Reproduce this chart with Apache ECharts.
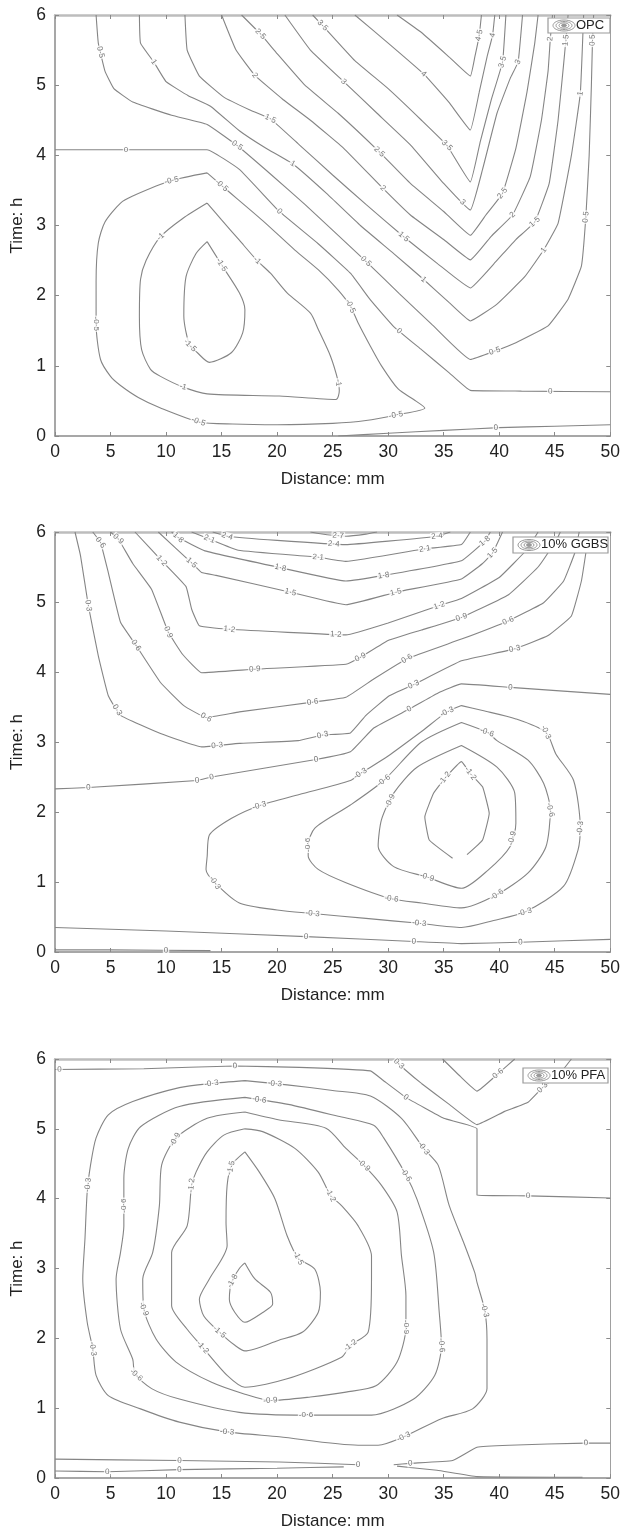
<!DOCTYPE html>
<html><head><meta charset="utf-8">
<script src="https://cdn.jsdelivr.net/npm/echarts/dist/echarts.min.js"></script>
<style>html,body{margin:0;padding:0;background:#fff}#c{width:623px;height:1533px}</style>
</head><body><div id="c"></div>
<script>
// ---------- axes ----------
const xTickValues = [0,5,10,15,20,25,30,35,40,45,50];
const yTickValues = [0,1,2,3,4,5,6];
const panelNames = ['OPC','10% GGBS','10% PFA'];

// ---------- Panel 1 : OPC contour lines [distance mm, time h] ----------
const o_m15 = [[13.7,2.77],[15.0,2.44],[16.6,2.04],[17.1,1.8],[16.9,1.47],[15.9,1.19],[13.9,1.05],[12.8,1.19],[12.1,1.3],[11.6,1.71],[11.8,2.27],[12.7,2.6],[13.7,2.77]];
const o_m10 = [[13.7,3.32],[11.5,3.1],[9.5,2.84],[8.2,2.5],[7.7,2.23],[7.6,1.7],[7.8,1.23],[8.6,0.95],[9.5,0.85],[11.5,0.7],[13.7,0.6],[20.2,0.57],[25.3,0.52],[25.6,0.65],[25.5,0.78],[24.8,1.14],[23.7,1.52],[23.0,1.75],[20.9,2.04],[19.4,2.32],[18.2,2.5],[16.6,2.79],[15.0,3.08],[13.7,3.32]];
const o_m05 = [[13.7,3.75],[10.5,3.64],[7.0,3.42],[5.9,3.32],[4.5,3.05],[3.9,2.75],[3.7,2.2],[3.7,1.6],[4.1,1.09],[5.0,0.85],[5.9,0.72],[7.5,0.55],[9.5,0.4],[13.0,0.2],[16,0.17],[20,0.16],[25,0.18],[28,0.22],[30.7,0.3],[33.3,0.4],[32.3,0.52],[30.9,0.67],[29.4,1.0],[28.4,1.28],[27.3,1.61],[26.6,1.85],[25.5,2.08],[23.7,2.37],[21.6,2.65],[18.7,3.07],[15.0,3.57],[13.7,3.75]];
const o_00a = [[0,4.08],[13.7,4.08],[16.6,3.8],[20.2,3.2],[23.7,2.74],[26.6,2.32],[28.4,1.94],[30.5,1.56],[33.0,1.23],[35.5,0.9],[37.4,0.65],[42,0.64],[50,0.63]];
const o_00b = [[25.5,0.0],[30,0.04],[35,0.08],[40,0.12],[45,0.14],[50,0.16]];
const o_05 = [[3.7,6],[3.9,5.6],[4.5,5.2],[5.3,4.95],[7.0,4.76],[10.5,4.57],[13.7,4.44],[16.4,4.14],[19.5,3.72],[22.5,3.3],[25.5,2.86],[28,2.49],[31,2.03],[34,1.58],[37.4,1.09],[39.6,1.21],[41.5,1.33],[44.4,1.57],[46.2,1.95],[47.4,2.42],[47.8,3.12],[48.1,4.0],[48.3,5.0],[48.4,5.64],[48.5,6]];
const o_10 = [[7.6,6],[7.7,5.6],[8.9,5.33],[10.0,5.05],[12.0,4.85],[14.0,4.7],[16.6,4.35],[19.0,4.1],[21.4,3.88],[24.5,3.45],[27.5,3.0],[30.5,2.6],[33.2,2.23],[35.5,1.9],[37.4,1.64],[39.8,1.88],[42.3,2.27],[44.0,2.65],[45.3,3.03],[46.5,4.0],[47.3,4.88],[47.6,6]];
const o_15 = [[11.7,6],[11.9,5.5],[13.0,5.13],[15.2,4.83],[17.5,4.65],[19.4,4.52],[22,4.15],[25,3.72],[28,3.3],[31.4,2.84],[34.5,2.45],[37.4,2.11],[39.5,2.45],[41.5,2.8],[43.2,3.05],[44.5,3.6],[45.3,4.5],[45.8,5.3],[46.0,5.64],[46.2,6]];
const o_20 = [[15.0,6],[16.3,5.5],[18.0,5.14],[20.5,4.8],[23,4.5],[26,4.1],[29.4,3.55],[32,3.15],[35,2.8],[37.4,2.51],[39.3,2.85],[41.2,3.15],[42.8,3.7],[43.8,4.5],[44.4,5.2],[44.6,5.66],[44.8,6]];
const o_25 = [[16.8,6],[18.5,5.73],[20,5.45],[22.5,5.0],[25.5,4.6],[29.2,4.05],[32,3.6],[35,3.2],[37.4,2.86],[38.8,3.15],[40.3,3.46],[41.5,4.1],[42.5,4.9],[43.2,5.6],[43.5,6]];
const o_30 = [[20.7,6],[23,5.5],[26,5.05],[29,4.6],[32,4.15],[35,3.6],[37.4,3.22],[38.5,3.8],[39.8,4.6],[41.0,5.1],[41.7,5.33],[42.1,6]];
const o_35 = [[23.2,6],[24.1,5.85],[27,5.35],[30,4.95],[33,4.5],[35.3,4.14],[37.4,3.62],[38.3,4.2],[39.3,4.8],[40.3,5.33],[40.6,6]];
const o_40 = [[27,6],[30,5.6],[33.2,5.16],[35.5,4.75],[37.4,4.36],[38.2,4.9],[38.9,5.4],[39.4,5.71],[39.6,6]];
const o_45 = [[30.8,6],[33,5.75],[35.5,5.4],[37.4,5.13],[37.8,5.4],[38.2,5.71],[38.4,6]];
// contour label anchors [level, distance, time]
const opcLabels = [[-1.5,15.0,2.44],[-1.5,12.1,1.28],[-1,9.5,2.84],[-1,18.2,2.5],[-1,11.6,0.74],[-1,25.5,0.76],
  [-0.5,10.5,3.64],[-0.5,15.0,3.57],[-0.5,3.7,1.6],[-0.5,12.9,0.2],[-0.5,30.7,0.3],[-0.5,26.6,1.85],
  [0,6.4,4.08],[0,20.2,3.2],[0,31.0,1.5],[0,44.6,0.64],[0,39.7,0.12],
  [0.5,4.1,5.47],[0.5,16.4,4.14],[0.5,28,2.49],[0.5,39.6,1.21],[0.5,47.8,3.12],[0.5,48.4,5.64],
  [1,8.9,5.33],[1,21.4,3.88],[1,33.2,2.23],[1,44.0,2.65],[1,47.3,4.88],
  [1.5,19.4,4.52],[1.5,31.4,2.84],[1.5,43.2,3.05],[1.5,46.0,5.64],
  [2,18.0,5.14],[2,29.4,3.51],[2,41.2,3.15],[2,44.6,5.66],
  [2.5,18.5,5.73],[2.5,29.2,4.05],[2.5,40.3,3.46],
  [3,26,5.05],[3,36.7,3.33],[3,41.7,5.33],
  [3.5,24.1,5.85],[3.5,35.3,4.14],[3.5,40.3,5.33],
  [4,33.2,5.16],[4,39.4,5.71],[4.5,38.2,5.71]];

// ---------- Panel 2 : 10% GGBS ----------
const g_27 = [[23,6],[24.5,5.96],[26.2,5.94],[28,5.97],[29,6]];
const g_24 = [[14.2,6],[15.5,5.94],[20,5.88],[26.2,5.82],[30,5.87],[34.4,5.94],[35.6,6]];
const g_21 = [[12.3,6],[13.9,5.9],[16.5,5.74],[23.7,5.64],[26.2,5.58],[33.3,5.76],[36.6,5.82],[37.4,6]];
const g_18 = [[10.5,6],[11.1,5.92],[13.5,5.73],[20.3,5.49],[26.2,5.3],[29.6,5.38],[36.6,5.59],[38.7,5.87],[39.2,6]];
const g_15 = [[9.3,6],[12.3,5.56],[13.2,5.42],[14.5,5.38],[21.2,5.14],[26.2,4.96],[30.7,5.14],[36.6,5.33],[38.5,5.55],[39.4,5.7],[40.3,6]];
const g_12 = [[7.2,6],[9.6,5.59],[11.8,5.22],[12.3,4.9],[13.0,4.66],[15.7,4.61],[26.2,4.53],[30,4.7],[34.6,4.95],[36.6,5.05],[40,5.35],[42.5,5.75],[43.5,6]];
const g_09 = [[5.0,6],[5.7,5.9],[7.0,5.55],[8.7,5.18],[10.2,4.57],[11.5,4.25],[13.2,3.99],[18.0,4.04],[26.2,4.11],[27.5,4.21],[30,4.45],[33,4.6],[36.6,4.78],[40.8,5.1],[43.5,5.5],[45.2,5.9],[45.5,6]];
const g_06 = [[3.4,6],[4.1,5.85],[4.8,5.42],[5.9,4.71],[7.3,4.38],[9.5,3.85],[11.6,3.52],[13.6,3.35],[16.6,3.43],[23.2,3.57],[26.2,3.64],[28.7,3.9],[31.7,4.19],[36.6,4.47],[40.8,4.73],[44.0,4.99],[45.8,5.3],[46.8,5.7],[47.2,6]];
const g_03 = [[1.8,6],[2.3,5.66],[3.0,4.95],[3.9,4.23],[4.8,3.66],[5.9,3.38],[9.5,3.12],[13.2,2.93],[16.6,2.98],[21.9,3.02],[24.1,3.1],[26.6,3.13],[28.0,3.38],[30.1,3.66],[32.3,3.82],[36.6,4.16],[41.4,4.33],[44.4,4.52],[46.5,4.8],[47.4,5.3],[47.8,5.7]];
const g_00a = [[0,2.33],[3,2.35],[12.8,2.45],[14.1,2.5],[23.5,2.75],[26.6,2.86],[28.7,3.2],[31.9,3.47],[34.5,3.7],[36.6,3.83],[41,3.78],[50,3.68]];
const g_00b = [[0,0.35],[10,0.3],[22.6,0.22],[32.3,0.15],[36.6,0.12],[41.9,0.14],[50,0.18]];
const g_00c = [[0,0.03],[5,0.03],[14,0.02]];
const g_m03 = [[36.6,3.52],[35.3,3.43],[33,3.15],[30,2.8],[27.5,2.55],[26.6,2.45],[22,2.25],[18.4,2.09],[15.9,1.91],[13.9,1.67],[13.7,1.36],[13.6,1.18],[14.4,0.99],[16.6,0.7],[20,0.6],[23.2,0.55],[28,0.48],[32.8,0.41],[36.6,0.35],[39.5,0.45],[42.3,0.57],[45.8,0.94],[47.1,1.46],[47.3,1.77],[46.7,2.45],[45.1,2.83],[44.2,3.14],[41.5,3.33],[38.5,3.45],[36.6,3.52]];
const g_m06 = [[36.6,3.28],[38.9,3.14],[39.8,3.02],[42.6,2.74],[44.0,2.41],[44.6,2.03],[44.2,1.5],[42.6,1.13],[39.8,0.82],[36.6,0.63],[33,0.7],[30.3,0.76],[26.2,0.99],[23.7,1.18],[22.8,1.37],[22.8,1.53],[23.4,1.77],[26.6,2.1],[29.6,2.45],[33.0,3.0],[36.6,3.28]];
const g_m09 = [[36.6,2.95],[32.6,2.64],[30.5,2.27],[29.4,1.89],[29.1,1.51],[30.5,1.22],[33.5,1.07],[36.6,0.91],[39.0,1.17],[41.0,1.51],[41.5,1.84],[41.4,2.27],[39.8,2.64],[36.6,2.95]];
const g_m12 = [[35.8,1.34],[33.7,1.6],[33.3,1.93],[34.1,2.27],[35.1,2.48],[36.6,2.72],[37.4,2.55],[38.5,2.36],[39.1,1.98],[38.5,1.6],[37.1,1.39]];
const ggbsLabels = [[2.7,25.5,5.95],[2.4,15.5,5.94],[2.4,25.1,5.84],[2.4,34.4,5.94],
  [2.1,13.9,5.9],[2.1,23.7,5.64],[2.1,33.3,5.76],
  [1.8,11.1,5.92],[1.8,20.3,5.49],[1.8,29.6,5.38],[1.8,38.7,5.87],
  [1.5,12.3,5.56],[1.5,21.2,5.14],[1.5,30.7,5.14],[1.5,39.4,5.7],
  [1.2,9.6,5.59],[1.2,15.7,4.61],[1.2,25.3,4.56],[1.2,34.6,4.95],
  [0.9,5.7,5.9],[0.9,10.2,4.57],[0.9,18.0,4.04],[0.9,27.5,4.21],[0.9,36.6,4.78],
  [0.6,4.1,5.85],[0.6,7.3,4.38],[0.6,13.6,3.35],[0.6,23.2,3.57],[0.6,31.7,4.19],[0.6,40.8,4.73],
  [0.3,3.0,4.95],[0.3,5.7,3.47],[0.3,14.6,2.95],[0.3,24.1,3.1],[0.3,32.3,3.82],[0.3,41.4,4.33],
  [0,3.0,2.35],[0,12.8,2.45],[0,14.1,2.5],[0,23.5,2.75],[0,31.9,3.47],[0,41.0,3.78],
  [0,22.6,0.22],[0,32.3,0.15],[0,41.9,0.14],[0,10.0,0.03],
  [-0.3,35.3,3.43],[-0.3,27.5,2.55],[-0.3,18.4,2.09],[-0.3,14.4,0.99],[-0.3,23.2,0.55],[-0.3,32.8,0.41],[-0.3,42.3,0.57],[-0.3,47.3,1.77],[-0.3,44.2,3.14],
  [-0.6,38.9,3.14],[-0.6,44.6,2.03],[-0.6,39.8,0.82],[-0.6,30.3,0.76],[-0.6,22.8,1.53],[-0.6,29.6,2.45],
  [-0.9,30.3,2.15],[-0.9,33.5,1.07],[-0.9,41.3,1.62],
  [-1.2,35.1,2.48],[-1.2,37.4,2.55]];

// ---------- Panel 3 : 10% PFA ----------
const p_06 = [[34.9,6],[36.5,5.75],[38.0,5.54],[39.9,5.79],[41.4,6]];
const p_03 = [[30.5,6],[31.5,5.85],[33,5.65],[35.5,5.35],[38.0,5.06],[40.5,5.25],[42.6,5.38],[43.9,5.59],[45.5,5.8],[46.5,6]];
const p_00a = [[0,5.85],[8,5.86],[16.2,5.9],[22,5.88],[28.4,5.83],[29.5,5.7],[31.6,5.45],[35,5.15],[38,5.0],[38,4.05],[42.6,4.04],[50,4.01]];
const p_00b = [[0,0.27],[11.2,0.25],[20.2,0.23],[27.3,0.19]];
const p_00c = [[0,0.1],[4.7,0.09],[11.2,0.12],[20,0.14],[26,0.16]];
const p_00d = [[30.5,0.19],[32.0,0.21],[35.8,0.25],[38.0,0.44],[40.9,0.47],[47.8,0.5],[50,0.5]];
const p_00e = [[30.8,0.17],[34.4,0.11],[38.0,0.02],[47.5,0.01]];
const p_m03 = [[17.1,5.69],[20.9,5.63],[25,5.55],[28.4,5.47],[31.2,5.15],[33.2,4.72],[34.5,4.48],[35.5,3.9],[36.9,3.33],[37.8,2.94],[38.0,2.8],[38.7,2.4],[38.9,1.99],[38.9,1.28],[37.6,0.99],[34.8,0.85],[31.4,0.59],[29.1,0.47],[27.3,0.47],[20.2,0.59],[15.5,0.66],[11.2,0.8],[7.7,0.99],[4.8,1.18],[3.7,1.47],[3.4,1.85],[2.9,2.23],[2.5,2.85],[2.7,3.43],[2.9,4.1],[3.2,4.48],[3.7,4.87],[4.8,5.2],[7.0,5.39],[11.2,5.59],[14.1,5.65],[17.1,5.69]];
const p_m06 = [[17.1,5.45],[21,5.35],[25.5,5.18],[28.7,5.05],[29.6,4.87],[31.6,4.34],[32.6,3.99],[34.1,3.23],[34.6,2.37],[34.8,1.9],[34.2,1.47],[32.3,1.13],[28.5,0.9],[22.6,0.9],[16.6,0.94],[11.2,1.13],[8.7,1.28],[7.2,1.49],[7.0,1.7],[5.9,2.13],[5.5,2.85],[5.9,3.23],[6.2,3.61],[6.2,4.29],[6.6,4.72],[7.7,5.03],[11.2,5.32],[17.1,5.45]];
const p_m09 = [[17.1,5.24],[20.1,5.13],[24.4,5.01],[26.2,4.72],[27.8,4.48],[29.4,4.19],[30.8,3.81],[31.2,3.18],[31.6,2.61],[31.6,2.16],[30.8,1.66],[28.9,1.32],[26.2,1.23],[23.0,1.16],[19.4,1.11],[17.1,1.2],[14.1,1.37],[10.9,1.66],[9.1,1.99],[8.0,2.42],[7.9,2.85],[8.8,3.23],[9.4,3.9],[9.6,4.48],[10.9,4.87],[13.7,5.15],[17.1,5.24]];
const p_m12 = [[17.1,5.0],[18.7,4.96],[21.6,4.72],[23.7,4.38],[24.8,4.05],[25.8,3.9],[27.3,3.61],[28.5,3.18],[28.5,2.85],[28.2,2.09],[26.6,1.9],[25.8,1.73],[20.9,1.42],[17.1,1.3],[15.5,1.47],[13.3,1.87],[11.9,2.13],[10.5,2.47],[10.5,3.23],[11.9,3.61],[12.3,4.19],[12.7,4.38],[13.7,4.67],[15.2,4.91],[17.1,5.0]];
const p_m15 = [[17.1,4.67],[18.4,4.38],[19.8,4.0],[20.9,3.47],[21.9,3.15],[23.4,2.99],[23.9,2.66],[23.7,2.37],[22.3,2.09],[20.1,1.97],[17.1,1.82],[16.2,1.9],[14.8,2.09],[13.4,2.32],[13.0,2.56],[13.9,2.85],[15.5,3.33],[15.4,3.66],[15.5,4.19],[15.9,4.48],[17.1,4.67]];
const p_m18 = [[17.1,3.08],[18.0,2.85],[19.4,2.66],[19.6,2.49],[18.7,2.37],[17.1,2.23],[16.2,2.37],[15.7,2.56],[15.9,2.8],[16.6,3.0],[17.1,3.08]];
const pfaLabels = [[0.6,39.9,5.79],[0.3,30.9,5.92],[0.3,43.9,5.59],
  [0,0.4,5.85],[0,16.2,5.9],[0,31.6,5.45],[0,42.6,4.04],
  [0,11.2,0.25],[0,27.3,0.19],[0,4.7,0.09],[0,11.2,0.12],[0,32.0,0.21],[0,47.8,0.5],
  [-0.3,14.1,5.64],[-0.3,19.8,5.64],[-0.3,2.9,4.2],[-0.3,33.2,4.72],[-0.3,38.7,2.4],[-0.3,3.4,1.85],[-0.3,15.5,0.66],[-0.3,31.4,0.59],
  [-0.6,18.4,5.42],[-0.6,6.2,3.9],[-0.6,7.4,1.49],[-0.6,22.6,0.9],[-0.6,34.8,1.9],[-0.6,31.6,4.34],
  [-0.9,10.9,4.84],[-0.9,27.8,4.48],[-0.9,31.6,2.16],[-0.9,19.4,1.11],[-0.9,8.0,2.42],
  [-1.2,12.3,4.19],[-1.2,24.8,4.05],[-1.2,13.3,1.87],[-1.2,26.6,1.9],
  [-1.5,16.2,4.43],[-1.5,21.9,3.15],[-1.5,14.8,2.09],
  [-1.8,16.0,2.82]];

// ---------- assembly ----------
const opcLines = [[-1.5,o_m15],[-1,o_m10],[-0.5,o_m05],[0,o_00a],[0,o_00b],[0.5,o_05],[1,o_10],[1.5,o_15],[2,o_20],[2.5,o_25],[3,o_30],[3.5,o_35],[4,o_40],[4.5,o_45]];
const ggbsLines = [[2.7,g_27],[2.4,g_24],[2.1,g_21],[1.8,g_18],[1.5,g_15],[1.2,g_12],[0.9,g_09],[0.6,g_06],[0.3,g_03],[0,g_00a],[0,g_00b],[0,g_00c],[-0.3,g_m03],[-0.6,g_m06],[-0.9,g_m09],[-1.2,g_m12]];
const pfaLines = [[0.6,p_06],[0.3,p_03],[0,p_00a],[0,p_00b],[0,p_00c],[0,p_00d],[0,p_00e],[-0.3,p_m03],[-0.6,p_m06],[-0.9,p_m09],[-1.2,p_m12],[-1.5,p_m15],[-1.8,p_m18]];

const LEFT = 55, WIDTH = 556;
const panels = [
  {lines: opcLines, labels: opcLabels, top: 15, h: 421, lg: {x:548, y:18, w:62, h:15}},
  {lines: ggbsLines, labels: ggbsLabels, top: 532, h: 420, lg: {x:513, y:537, w:95, h:16}},
  {lines: pfaLines, labels: pfaLabels, top: 1059, h: 419, lg: {x:523, y:1068, w:85, h:15}}
];
const FONT = 'Liberation Sans, Arial, sans-serif';
const xMin = xTickValues[0], xMax = xTickValues[xTickValues.length-1], xInt = xTickValues[1]-xTickValues[0];
const yMin = yTickValues[0], yMax = yTickValues[yTickValues.length-1], yInt = yTickValues[1]-yTickValues[0];

function fmt(v){ const s = String(Math.abs(v)).replace('.', '\u00b7'); return (v < 0 ? '-' : '') + s; }

function place(lines, level, x, y, kx, ky){
  let best = null;
  const px = x*kx, py = y*ky;
  for (const [lv, pts] of lines){
    if (Math.abs(lv-level) > 1e-9) continue;
    for (let i=0;i<pts.length-1;i++){
      const ax=pts[i][0]*kx, ay=pts[i][1]*ky, bx=pts[i+1][0]*kx, by=pts[i+1][1]*ky;
      const dx=bx-ax, dy=by-ay, L2=dx*dx+dy*dy||1e-9;
      let t=((px-ax)*dx+(py-ay)*dy)/L2; t=Math.max(0,Math.min(1,t));
      const qx=ax+t*dx, qy=ay+t*dy, d=(qx-px)**2+(qy-py)**2;
      if(!best||d<best.d) best={d,qx,qy,dx,dy};
    }
  }
  if (!best) return {x, y, rot:0};
  let a = Math.atan2(best.dy, best.dx)*180/Math.PI;
  if (a > 90) a -= 180; if (a < -90) a += 180;
  return {x: best.qx/kx, y: best.qy/ky, rot: a};
}

const grid=[], xAxis=[], yAxis=[], series=[], graphic=[];
panels.forEach((P, i) => {
  grid.push({left: LEFT, top: P.top, width: WIDTH, height: P.h});
  const tick = {show:true, inside:true, length:4, lineStyle:{color:'#8a8a8a', width:1}};
  xAxis.push({gridIndex:i, type:'value', min:xMin, max:xMax, interval:xInt, position:'bottom',
    axisLine:{onZero:false, lineStyle:{color:'#8a8a8a', width:1.5}}, axisTick:tick,
    axisLabel:{color:'#222', fontSize:17.5, margin:7, fontFamily:FONT}, splitLine:{show:false},
    name:'Distance: mm', nameLocation:'middle', nameGap:35, nameTextStyle:{color:'#222', fontSize:17, fontFamily:FONT}});
  xAxis.push({gridIndex:i, type:'value', min:xMin, max:xMax, interval:xInt, position:'top',
    axisLine:{onZero:false, lineStyle:{color:'#bdbdbd', width:2.5}}, axisTick:tick,
    axisLabel:{show:false}, splitLine:{show:false}});
  yAxis.push({gridIndex:i, type:'value', min:yMin, max:yMax, interval:yInt, position:'left',
    axisLine:{onZero:false, lineStyle:{color:'#8a8a8a', width:1.5}}, axisTick:tick,
    axisLabel:{color:'#222', fontSize:17.5, margin:9, fontFamily:FONT}, splitLine:{show:false},
    name:'Time: h', nameLocation:'middle', nameGap:21, nameTextStyle:{color:'#222', fontSize:17, fontFamily:FONT}});
  yAxis.push({gridIndex:i, type:'value', min:yMin, max:yMax, interval:yInt, position:'right',
    axisLine:{onZero:false, lineStyle:{color:'#a0a0a0', width:1}}, axisTick:tick,
    axisLabel:{show:false}, splitLine:{show:false}});
  P.lines.forEach(([lv, pts]) => {
    const closed = pts.length > 3 && pts[0][0] === pts[pts.length-1][0] && pts[0][1] === pts[pts.length-1][1];
    series.push({type:'line', xAxisIndex:2*i, yAxisIndex:2*i, data:pts, showSymbol:false, symbol:'none',
      smooth: closed ? 0.25 : 0.1, silent:true, animation:false, z:2, lineStyle:{color:'#858585', width:1.1}});
  });
  const kx = WIDTH/(xMax-xMin), ky = P.h/(yMax-yMin);
  const items = P.labels.map(([lv, x, y]) => {
    const q = place(P.lines, lv, x, y, kx, ky);
    return {name: fmt(lv), value:[q.x, q.y], label:{rotate: q.rot}};
  });
  series.push({type:'scatter', xAxisIndex:2*i, yAxisIndex:2*i, data:items, symbolSize:0, silent:true,
    animation:false, z:3, clip:false,
    label:{show:true, position:'inside', formatter:'{b}', fontSize:8, color:'#555', fontFamily:FONT,
      backgroundColor:'#fff', padding:[0,1]}});
  // legend box
  const L = P.lg, cx = L.x + 16, cy = L.y + L.h/2;
  graphic.push({type:'rect', shape:{x:L.x, y:L.y, width:L.w, height:L.h}, style:{fill:'#fff', stroke:'#9a9a9a', lineWidth:1.2}, z:10});
  [[11,5.5],[8,4],[5,2.7],[2.5,1.4]].forEach(([rx, ry], k) => {
    graphic.push({type:'ellipse', shape:{cx, cy, rx, ry}, style:{fill: k===3 ? '#999' : 'none', stroke:'#999', lineWidth:1}, z:11});
  });
  graphic.push({type:'text', left: L.x + 28, top: L.y + 1, style:{text: panelNames[i], fill:'#222', font:'13px ' + FONT}, z:11});
});

const chart = echarts.init(document.getElementById('c'), null, {renderer:'canvas'});
chart.setOption({animation:false, backgroundColor:'#fff', grid, xAxis, yAxis, series, graphic});
</script></body></html>
